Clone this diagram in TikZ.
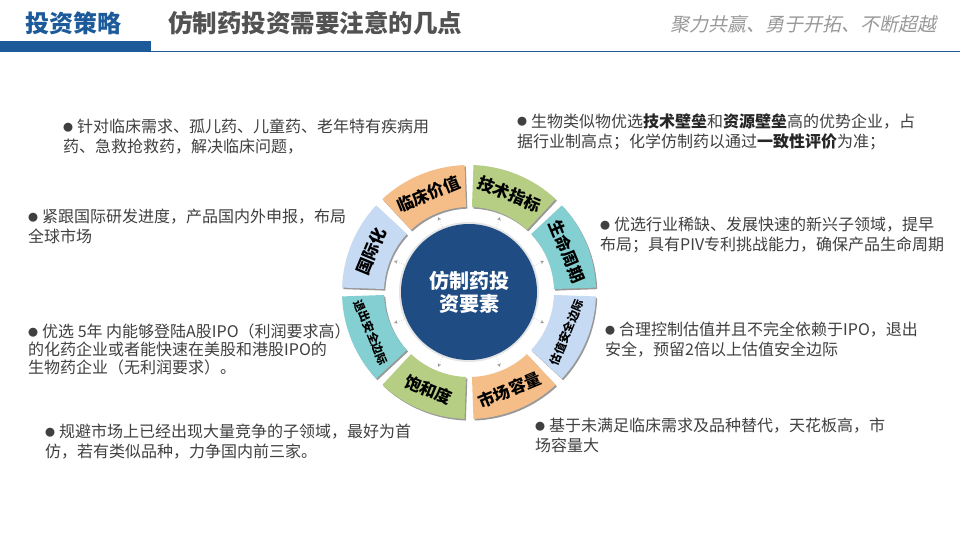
\documentclass[tikz,border=0pt]{standalone}
\usepackage{fontspec}
\setmainfont{Noto Sans CJK SC}
\newfontfamily\slogfont[FakeSlant=0.22]{Noto Sans CJK SC}
\definecolor{hdrblue}{HTML}{1D5A9A}
\definecolor{peach}{HTML}{F5BE88}
\definecolor{sgreen}{HTML}{B5CE84}
\definecolor{steal}{HTML}{84CFD1}
\definecolor{sblue}{HTML}{C6DAF3}
\definecolor{cdark}{HTML}{1F4C82}
\definecolor{txt}{HTML}{404040}
\newcommand\bul{\raisebox{1.5pt}{\fontsize{10}{10}\selectfont ●}\hspace{4pt}}
\tikzset{
  para/.style={anchor=north west, inner sep=0, align=left, text=txt, font=\fontsize{16}{20}\selectfont},
  seglabel/.style={inner sep=0, text=black, font=\bfseries},
  arrowline/.style={draw=black!40, line width=0.4pt, dotted, -{Stealth[length=3.5pt,width=3.5pt]}},
}
\usetikzlibrary{arrows.meta}
\begin{document}
\begin{tikzpicture}[x=1pt,y=-1pt]
\useasboundingbox (0,0) rectangle (960,540);
\fill[white] (0,0) rectangle (960,540);
% header
\fill[hdrblue] (0,41) rectangle (151,52);
\draw[hdrblue, line width=1.2pt] (151,51.4) -- (960,51.4);
\node[anchor=west, inner sep=0, text=hdrblue, font=\fontsize{24}{24}\selectfont\bfseries] (sec) at (25,23) {投资策略};
\node[anchor=west, inner sep=0, text=black!68, font=\fontsize{24.5}{24}\selectfont\bfseries] (title) at (168,23) {仿制药投资需要注意的几点};
\node[anchor=east, inner sep=0, text=black!40, font=\slogfont\fontsize{19}{19}\selectfont] (slogan) at (937,24) {聚力共赢、勇于开拓、不断超越};
% wheel
\begin{scope}[shift={(469,292)}, y=1pt]
  \foreach \a/\c/\t/\fs [count=\i] in {
      112.5/peach/临床价值/16.5,
      67.5/sgreen/技术指标/16.5,
      22.5/steal/生命周期/16.5,
      -22.5/sblue/估值安全边际/11.5,
      -67.5/peach/市场容量/16.5,
      -112.5/sgreen/饱和度/16.5,
      -157.5/steal/退出安全边际/11.5,
      157.5/sblue/国际化/16.5} {
    \pgfmathsetmacro\sa{\a-20.5}
    \pgfmathsetmacro\ea{\a+20.5}
    \pgfmathsetmacro\rot{\a>0 ? \a-90 : \a+90}
    \fill[black!40, shift={(1.3pt,-1.6pt)}] (\sa:85pt) arc[start angle=\sa, end angle=\ea, radius=85pt]
        -- (\ea:127pt) arc[start angle=\ea, end angle=\sa, radius=127pt] -- cycle;
    \fill[\c] (\sa:85pt) arc[start angle=\sa, end angle=\ea, radius=85pt]
        -- (\ea:127pt) arc[start angle=\ea, end angle=\sa, radius=127pt] -- cycle;
    \node[seglabel, rotate=\rot, font=\fontsize{\fs}{\fs}\selectfont\bfseries] (s\i) at (\a:106pt) {\t};
    \coordinate (t\i) at (\a:81pt);
  }
  \fill[black!10] (0,0) circle[radius=70pt];
  \node[circle, fill=cdark, minimum size=136pt, inner sep=0, align=center, text=white,
        font=\fontsize{20}{23}\selectfont\bfseries] (core) at (0,0) {仿制药投\\资要素};
  \foreach \a [count=\i] in {112.5,67.5,22.5,-22.5,-67.5,-112.5,-157.5,157.5} {
    \draw[arrowline] (core.\a) -- (t\i);
  }
\end{scope}
% text blocks
\node[para] (p1) at (63,119) {\bul 针对临床需求、孤儿药、儿童药、老年特有疾病用\\药、急救抢救药，解决临床问题，};
\node[para] (p2) at (28,209) {\bul 紧跟国际研发进度，产品国内外申报，布局\\全球市场};
\node[para] (p3) at (517,113) {\bul 生物类似物优选{\bfseries\color{black!85}技术壁垒}和{\bfseries\color{black!85}资源壁垒}高的优势企业，占\\据行业制高点；化学仿制药以通过{\bfseries\color{black!85}一致性评价}为准；};
\node[para] (p4) at (600,217) {\bul 优选行业稀缺、发展快速的新兴子领域，提早\\布局；具有PIV专利挑战能力，确保产品生命周期};
\node[para, font=\fontsize{16}{18}\selectfont] (p5) at (28,324) {\bul 优选 5年 内能够登陆A股IPO（利润要求高）\\的化药企业或者能快速在美股和港股IPO的\\生物药企业（无利润要求）。};
\node[para] (p6) at (45,424) {\bul 规避市场上已经出现大量竞争的子领域，最好为首\\仿，若有类似品种，力争国内前三家。};
\node[para] (p7) at (605,322) {\bul 合理控制估值并且不完全依赖于IPO，退出\\安全，预留2倍以上估值安全边际};
\node[para] (p8) at (535,418) {\bul 基于未满足临床需求及品种替代，天花板高，市\\场容量大};
\end{tikzpicture}
\end{document}
